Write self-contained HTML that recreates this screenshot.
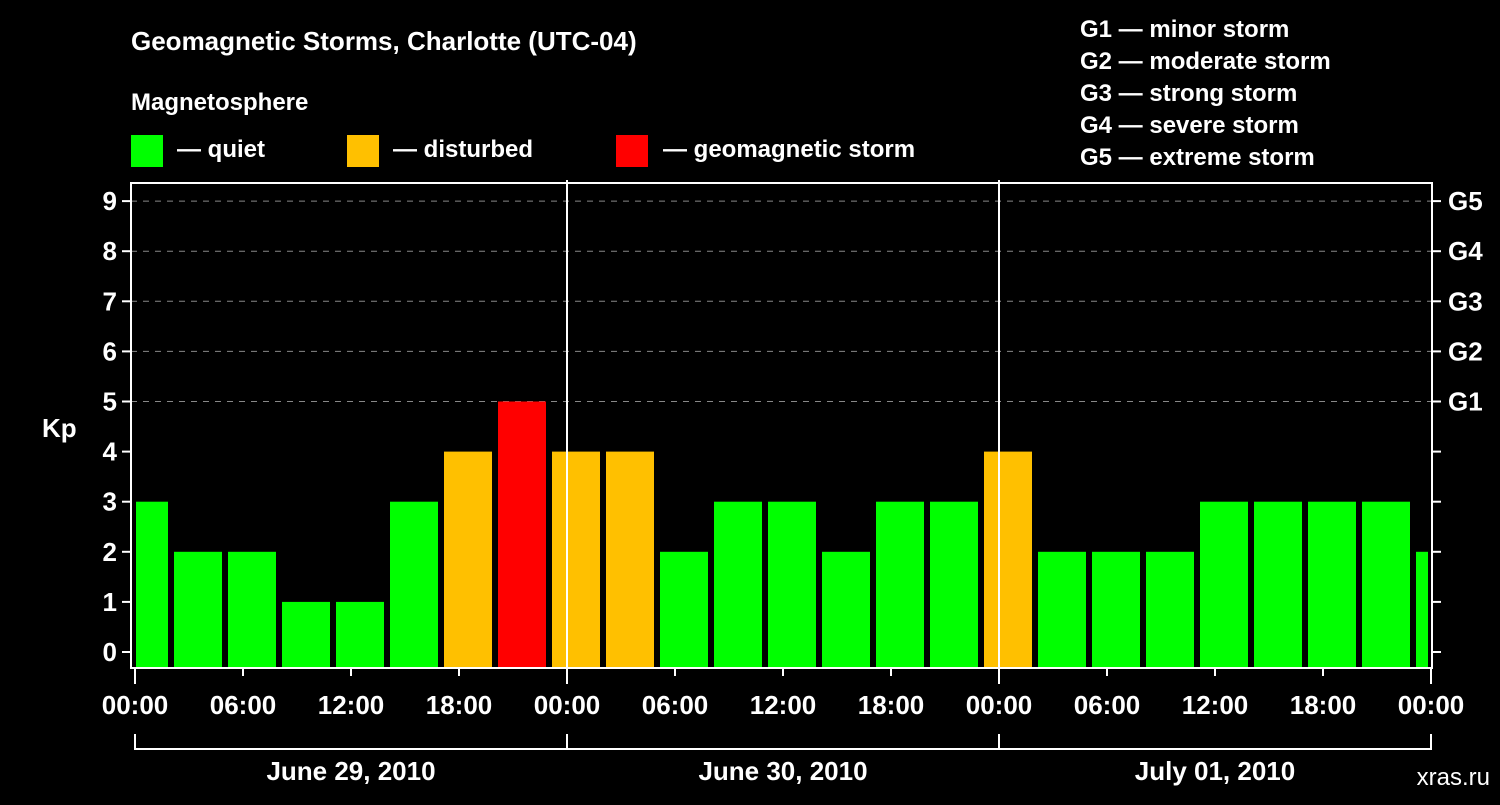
<!DOCTYPE html>
<html><head><meta charset="utf-8"><style>
body{margin:0;background:#000;width:1500px;height:800px;overflow:hidden;font-family:"Liberation Sans",sans-serif;}
svg text{font-family:"Liberation Sans",sans-serif;font-weight:bold;fill:#fff;}
</style></head><body>
<svg id="c" width="1500" height="800" xmlns="http://www.w3.org/2000/svg">
<text x="131" y="50" font-size="26">Geomagnetic Storms, Charlotte (UTC-04)</text>
<text x="131" y="110" font-size="24">Magnetosphere</text>
<rect x="131" y="135" width="32" height="32" fill="#00ff00"/>
<text x="177" y="157" font-size="24">— quiet</text>
<rect x="347" y="135" width="32" height="32" fill="#ffc000"/>
<text x="393" y="157" font-size="24">— disturbed</text>
<rect x="616" y="135" width="32" height="32" fill="#ff0000"/>
<text x="663" y="157" font-size="24">— geomagnetic storm</text>
<g font-size="24">
<text x="1080" y="37">G1 — minor storm</text>
<text x="1080" y="69">G2 — moderate storm</text>
<text x="1080" y="101">G3 — strong storm</text>
<text x="1080" y="133">G4 — severe storm</text>
<text x="1080" y="165">G5 — extreme storm</text>
</g>
<text x="42" y="437" font-size="26">Kp</text>
<text x="1490" y="785" font-size="24" fill="#fff" text-anchor="end" style="font-weight:normal">xras.ru</text>
<g id="plot"></g>
</svg>
<script>
const kpValues=[3,2,2,1,1,3,4,5,4,4,2,3,3,2,3,3,4,2,2,2,3,3,3,3,2];
const yTicks=[0,1,2,3,4,5,6,7,8,9];
const gLabels=["G1","G2","G3","G4","G5"];
const xTickLabels=["00:00","06:00","12:00","18:00","00:00","06:00","12:00","18:00","00:00","06:00","12:00","18:00","00:00"];
const dayLabels=["June 29, 2010","June 30, 2010","July 01, 2010"];
const L=131,R=1432,T=183,B=668,X0=135,PXH=18;
const y=v=>652-v*50.1;
const x=h=>X0+h*PXH;
const NS="http://www.w3.org/2000/svg";
const g=document.getElementById('plot');
function mk(t,a){const e=document.createElementNS(NS,t);for(const k in a)e.setAttribute(k,a[k]);g.appendChild(e);return e;}
// grid
yTicks.forEach(v=>{
 if(v>=5){const l=mk('line',{x1:L,x2:R,y1:y(v),y2:y(v),stroke:'#888','stroke-dasharray':'6,6','stroke-width':1});
 
 }
 const t=mk('line',{x1:L-9,x2:L,y1:y(v),y2:y(v),stroke:'#fff','stroke-width':2});
 
 
 const tr=mk('line',{x1:R,x2:R+9,y1:y(v),y2:y(v),stroke:'#fff','stroke-width':2});
 
 
 const tx=mk('text',{x:L-14,y:y(v)+9,'font-size':26,'text-anchor':'end'});tx.textContent=v;
 
 
});
gLabels.forEach((s,i)=>{const tx=mk('text',{x:1448,y:y(5+i)+9,'font-size':26});tx.textContent=s;
 
 });
// bars (UTC 3h bins -> local start at -1h)
kpValues.forEach((v,i)=>{
 let x1=x(-1+3*i)+3,x2=x1+48;
 x1=Math.max(x1,L+5);x2=Math.min(x2,R-4);
 const col=v>=5?'#ff0000':v>=4?'#ffc000':'#00ff00';
 const r=mk('rect',{x:x1,y:y(v),width:x2-x1,height:B-y(v),fill:col});
 
 
});
// day separators
[1,2].forEach(d=>{const l=mk('line',{x1:x(24*d),x2:x(24*d),y1:T-3,y2:B,stroke:'#fff','stroke-width':2});
 
 });
// frame
const f=mk('rect',{x:L,y:T,width:R-L,height:B-T,fill:'none',stroke:'#fff','stroke-width':2});


// x ticks
xTickLabels.forEach((s,i)=>{
 const xx=x(6*i);
 const t=mk('line',{x1:xx,x2:xx,y1:B,y2:B+(i%4==0?16:8),stroke:'#fff','stroke-width':2});
 
 
 const tx=mk('text',{x:xx,y:714,'font-size':26,'text-anchor':'middle'});tx.textContent=s;
 
 
});
// day brackets
dayLabels.forEach((s,d)=>{
 const a=x(24*d),b=x(24*(d+1));
 const p=mk('path',{d:`M${a},734V749H${b}V734`,fill:'none',stroke:'#fff','stroke-width':2});
 
 
 const tx=mk('text',{x:(a+b)/2,y:780,'font-size':26,'text-anchor':'middle'});tx.textContent=s;
 
 
});
</script>
</body></html>
